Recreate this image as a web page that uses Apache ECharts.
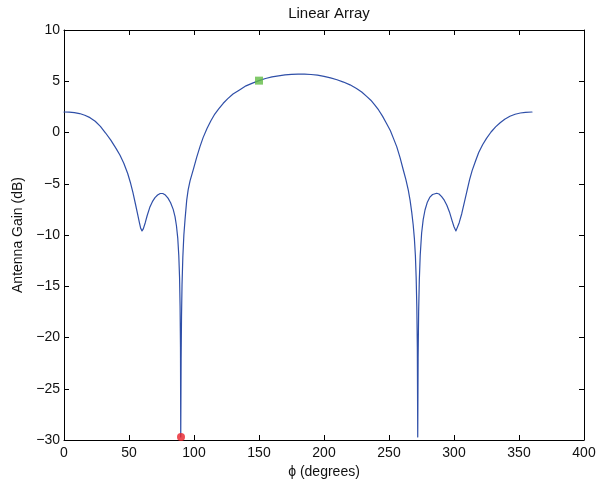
<!DOCTYPE html>
<html>
<head>
<meta charset="utf-8">
<script src="https://cdn.jsdelivr.net/npm/echarts@6/dist/echarts.min.js"></script>
<style>html,body{margin:0;padding:0;background:#fff;overflow:hidden;}#c{width:596px;height:482px;}</style>
</head>
<body>
<div id="c"></div>
<script>
var phiDeg = [0,4,8,12,16,20,24,28,32,36,40,43,46,49,51,53,55,56.5,58,59,60,61,62.5,64,66,68,70,72,74,75,76,78,80,82,84,85.4,86.5,87.5,88.3,88.9,89.3,89.6,89.8,90.1,90.4,90.8,91.4,92.2,93.1,94.4,95.5,97,99.5,102,104.6,107,110,113,116,119,122.5,126,130,135,140,145,150,155,160,165,170,175,180,185,190,195,200,205,210,215,220,225,229,233,236,239,242,245,248,251,253.5,256,258.5,261,263,264.8,266.2,267.5,268.6,269.5,270.3,270.9,271.4,271.8,272.1,272.4,272.8,273.3,274,275.1,276.3,277.7,279.5,281.5,283.5,285,286.7,288.5,290.5,292.5,294.5,296.5,298.5,300,301.5,302.5,304,306,308,310,312,314,316.5,319,322,325,328.5,332,335.5,339,343,347,351,355,360];
var gainDb = [2.0,1.98,1.93,1.85,1.68,1.45,1.1,0.6,-0.05,-0.75,-1.55,-2.2,-3.0,-4.0,-4.85,-5.85,-7.0,-7.9,-8.8,-9.35,-9.6,-9.4,-8.8,-8.1,-7.3,-6.75,-6.35,-6.1,-5.95,-5.93,-5.95,-6.1,-6.4,-6.85,-7.5,-8.2,-9.1,-10.3,-12,-14.2,-17,-21,-29.7,-22,-18,-14.8,-12.2,-10,-8.5,-6.6,-5.6,-4.7,-3.6,-2.45,-1.38,-0.5,0.4,1.15,1.8,2.3,2.85,3.3,3.75,4.15,4.55,4.82,5.06,5.27,5.42,5.53,5.62,5.67,5.7,5.7,5.66,5.6,5.48,5.33,5.15,4.92,4.65,4.3,3.95,3.5,3.15,2.7,2.2,1.6,0.9,0.2,-0.6,-1.4,-2.45,-3.66,-4.6,-5.6,-6.6,-7.8,-9.0,-10.3,-12,-14.2,-17,-21,-29.7,-22,-17.5,-14.5,-12,-9.8,-8.5,-7.56,-6.8,-6.3,-6.05,-5.95,-5.93,-6.0,-6.25,-6.6,-7.1,-7.75,-8.6,-9.2,-9.6,-9.45,-8.8,-7.9,-6.8,-5.7,-4.6,-3.7,-2.8,-1.95,-1.2,-0.57,0.05,0.55,0.95,1.3,1.58,1.78,1.9,1.97,2.0];
var nullPoint = [90, -29.7];
var markPoint = [150, 5.06];
var xTicks = [0,50,100,150,200,250,300,350,400];
var yTicks = [-30,-25,-20,-15,-10,-5,0,5,10];
var titleText = 'Linear Array';
var xLabel = '\u03d5 (degrees)';
var yLabel = 'Antenna Gain (dB)';

var FONT = 'Liberation Sans, Arial, Helvetica, sans-serif';
function fmt(v){ return v < 0 ? '\u2212' + Math.abs(v) : String(v); }
var lineData = phiDeg.map(function(p,i){ return [p, gainDb[i]]; });

var chart = echarts.init(document.getElementById('c'), null, {renderer:'canvas'});
var axisCommon = {
  axisLine:{show:true, onZero:false, lineStyle:{color:'#000', width:1}},
  axisTick:{show:true, inside:true, length:5, lineStyle:{color:'#000', width:1}},
  splitLine:{show:false}
};
chart.setOption({
  animation:false,
  backgroundColor:'#fff',
  title:{text:titleText, left:324, top:1, textAlign:'center',
    textStyle:{fontFamily:FONT, fontSize:15, fontWeight:'normal', color:'#111'}},
  grid:{left:64, right:12, top:30, bottom:42, containLabel:false, outerBoundsMode:'none'},
  xAxis:[
    Object.assign({type:'value', min:xTicks[0], max:xTicks[xTicks.length-1], interval:50, position:'bottom',
      name:xLabel, nameLocation:'middle', nameGap:24,
      nameTextStyle:{fontFamily:FONT, fontSize:14, color:'#111'},
      axisLabel:{fontFamily:FONT, fontSize:14, color:'#111', margin:6, formatter:fmt}}, axisCommon),
    Object.assign({type:'value', min:xTicks[0], max:xTicks[xTicks.length-1], interval:50, position:'top',
      axisLabel:{show:false}}, axisCommon)
  ],
  yAxis:[
    Object.assign({type:'value', min:yTicks[0], max:yTicks[yTicks.length-1], interval:5, position:'left',
      name:yLabel, nameLocation:'middle', nameGap:38, nameRotate:90,
      nameTextStyle:{fontFamily:FONT, fontSize:14, color:'#111'},
      axisLabel:{fontFamily:FONT, fontSize:14, color:'#111', margin:4, formatter:fmt}}, axisCommon),
    Object.assign({type:'value', min:yTicks[0], max:yTicks[yTicks.length-1], interval:5, position:'right',
      axisLabel:{show:false}}, axisCommon)
  ],
  series:[
    {type:'line', data:lineData, showSymbol:false, symbol:'none', smooth:false,
      lineStyle:{color:'#2f4fa8', width:1.2, join:'round', cap:'round'}, clip:false, z:2},
    {type:'scatter', data:[markPoint], symbol:'rect', symbolSize:8,
      itemStyle:{color:'#62bb45'}, clip:false, z:3},
    {type:'scatter', data:[nullPoint], symbol:'circle', symbolSize:8,
      itemStyle:{color:'#e8222a'}, clip:false, z:3}
  ]
});
</script>
</body>
</html>
